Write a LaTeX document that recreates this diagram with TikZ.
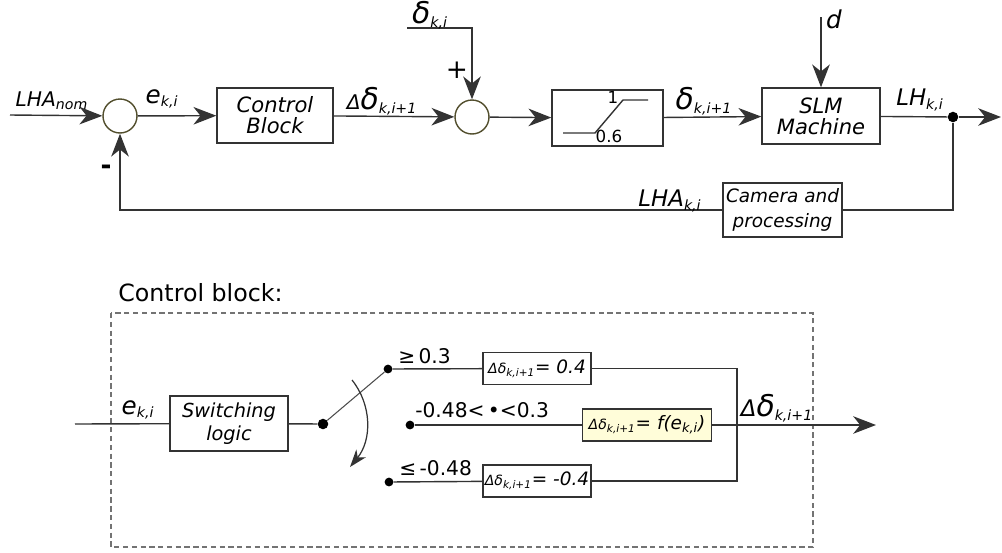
\documentclass[tikz,border=0pt]{standalone}
\usepackage{fontspec}
\setmainfont{DejaVu Sans}
\usetikzlibrary{arrows.meta}

\begin{document}
\begin{tikzpicture}[
    x=0.02cm, y=-0.02cm,
    >={Stealth[length=13pt,width=10pt,inset=4pt]},
    block/.style={
        draw=black!80,
        line width=0.8pt,
        fill=white,
        minimum width=2.32cm,
        minimum height=1.1cm,
        align=center,
        inner sep=1pt,
        font=\fontsize{12}{14}\selectfont\itshape
    },
    sumnode/.style={
        circle,
        draw=olive!45!black,
        line width=0.8pt,
        minimum size=0.68cm,
        inner sep=0pt
    },
    rule/.style={
        draw=black!80,
        line width=0.8pt,
        fill=white,
        minimum width=2.16cm,
        minimum height=0.64cm,
        inner sep=1pt,
        font=\fontsize{10.5}{12}\selectfont\itshape
    },
    lbl/.style={inner sep=0pt, font=\fontsize{11.5}{13}\selectfont\itshape},
    cond/.style={inner sep=0pt, font=\fontsize{11.5}{14}\selectfont},
    wire/.style={draw=black!80, line width=0.8pt},
    arr/.style={wire, ->},
    dotnode/.style={circle, fill=black, inner sep=0pt, minimum size=6pt}
]
    \useasboundingbox (0,0) rectangle (1002,552);

    % upper loop
    \coordinate (lhain) at (10,115);
    \node[sumnode] (sum1) at (120,116) {};
    \node[block] (ctrl) at (275,115.5) {Control\\[-2pt]Block};
    \node[sumnode] (sum2) at (472,117) {};
    \coordinate (din) at (407,28);
    \node[block, minimum width=2.22cm, minimum height=1.12cm] (sat) at (607.5,118) {};
    \node[block, minimum width=2.36cm, minimum height=1.12cm] (slm) at (821,116) {SLM\\[-2pt]Machine};
    \coordinate (dtop) at (821,17);
    \node[dotnode] (split) at (953,117) {};
    \coordinate (out) at (1001,117);
    \node[block, minimum width=2.38cm, minimum height=1.08cm, font=\fontsize{10.5}{14}\selectfont\itshape] (cam) at (782.5,210) {Camera and\\processing};

    \draw[wire] ([shift={(-44.5,15)}]sat.center) -- ([shift={(-12.5,15)}]sat.center)
        -- ([shift={(15.5,-18)}]sat.center) -- ([shift={(40.5,-18)}]sat.center);
    \node[inner sep=0pt, font=\fontsize{9.5}{10}\selectfont] at (613,97) {1};
    \node[inner sep=0pt, font=\fontsize{9.5}{10}\selectfont] at (609,136) {0.6};

    \draw[arr] (lhain) -- (sum1);
    \draw[arr] (sum1) -- (ctrl);
    \draw[arr] (ctrl) -- (sum2);
    \draw[arr] (din) -| (sum2.north);
    \draw[arr] (sum2) -- (sat);
    \draw[arr] (sat) -- (slm);
    \draw[arr] (dtop) -- (slm.north);
    \draw[wire] (slm) -- (split);
    \draw[arr] (split) -- (out);
    \draw[wire] (split) |- (cam.east);
    \draw[arr] (cam.west) -| (sum1.south);

    \node[lbl] at (52,101) {LHA\textsubscript{nom}};
    \node[lbl] at (162,99) {{\fontsize{14}{14}\selectfont e}\textsubscript{k,i}};
    \node[lbl] at (382,101) {Δ{\fontsize{17}{17}\selectfont δ}\textsubscript{k,i+1}};
    \node[lbl] at (430,15) {{\fontsize{17}{17}\selectfont δ}\textsubscript{k,i}};
    \node[inner sep=0pt, font=\fontsize{15}{15}\selectfont] at (457,70) {+};
    \node[lbl] at (704,101) {{\fontsize{17}{17}\selectfont δ}\textsubscript{k,i+1}};
    \node[lbl] at (834,19) {{\fontsize{14}{14}\selectfont d}};
    \node[lbl] at (920,100) {{\fontsize{13}{13}\selectfont LH}\textsubscript{k,i}};
    \node[lbl] at (670,201) {{\fontsize{13}{13}\selectfont LHA}\textsubscript{k,i}};
    \node[inner sep=0pt, font=\fontsize{15}{15}\selectfont\bfseries] at (106,170) {-};

    % control block detail
    \node[cond, anchor=west, font=\fontsize{13.5}{15}\selectfont] at (118,293) {Control block:};
    \draw[black!55, line width=0.7pt, dash pattern=on 3pt off 2pt] (111,313) rectangle (813,547);

    \coordinate (ein) at (75,424);
    \node[block, minimum width=2.36cm, minimum height=1.1cm, font=\fontsize{11}{13}\selectfont\itshape] (switch) at (229,423.5) {Switching\\logic};
    \node[dotnode] (swdot) at (323,424) {};
    \node[dotnode, minimum size=5pt] (hi) at (388,369) {};
    \node[dotnode, minimum size=5pt] (mid) at (410,425) {};
    \node[dotnode, minimum size=5pt] (lo) at (389,482) {};
    \node[rule] (rhi) at (537,368.5) {{\fontsize{8}{9}\selectfont Δδ\textsubscript{k,i+1}}= 0.4};
    \node[rule, fill=yellow!15, minimum width=2.58cm] (rmid) at (647,425) {{\fontsize{8}{9}\selectfont Δδ\textsubscript{k,i+1}}= f(e\textsubscript{k,i})};
    \node[rule] (rlo) at (537,481) {{\fontsize{8}{9}\selectfont Δδ\textsubscript{k,i+1}}= -0.4};
    \coordinate (merge) at (737,425);
    \coordinate (cbout) at (876,425);

    \draw[wire] (ein) -- (switch);
    \draw[wire] (switch) -- (swdot);
    \draw[black!70, line width=0.6pt] (swdot) -- (hi);
    \draw[black!80, line width=0.7pt, -{Stealth[length=10pt,width=7pt,inset=3pt]}]
        (352,380) .. controls (372,405) and (372,440) .. (350,467);
    \draw[wire] (hi) -- (rhi);
    \draw[wire] (mid) -- (rmid);
    \draw[wire] (lo) -- (rlo);
    \draw[wire] (rhi) -| (merge);
    \draw[wire] (rlo) -| (merge);
    \draw[wire] (rmid) -- (merge);
    \draw[arr] (merge) -- (cbout);

    \node[lbl] at (138,410) {{\fontsize{14}{14}\selectfont e}\textsubscript{k,i}};
    \node[cond, anchor=west] at (398,356) {≥\,0.3};
    \node[cond, anchor=west] at (415,410) {-0.48<\,•<0.3};
    \node[cond, anchor=west] at (399,468) {≤\,-0.48};
    \node[lbl] at (777,408) {{\fontsize{13}{13}\selectfont Δ}{\fontsize{17}{17}\selectfont δ}\textsubscript{k,i+1}};
\end{tikzpicture}
\end{document}
